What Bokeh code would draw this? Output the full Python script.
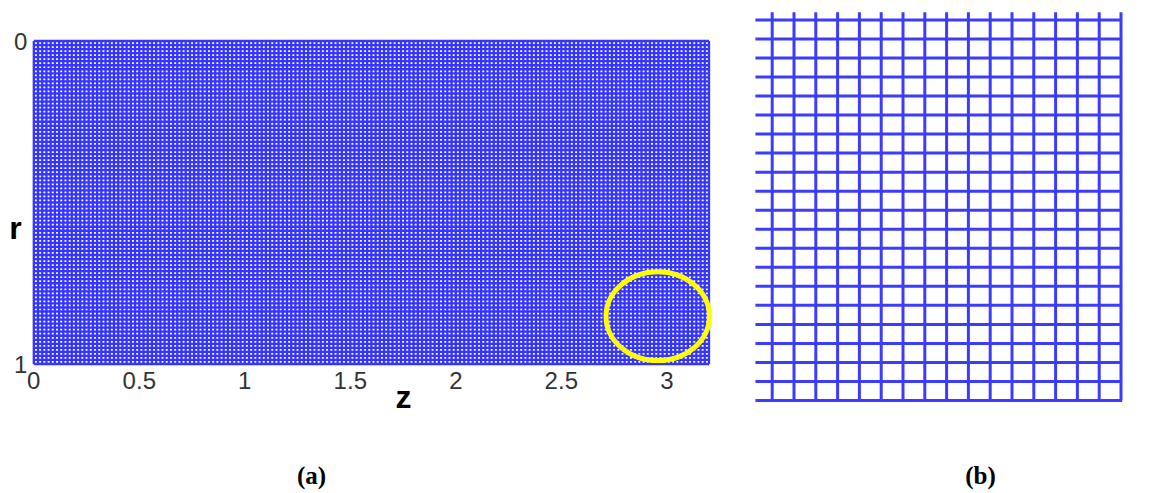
import numpy as np
from bokeh.plotting import figure
from bokeh.models import Range1d
from bokeh.core.properties import value
from bokeh.embed import file_html
from bokeh.resources import INLINE

# ---------------- data ----------------
# panel (a): computational mesh on z in [0, 3.2], r in [0, 1]
z_max = 3.2
r_max = 1.0
n_z_cells = 160
n_r_cells = 80
z_ticks = [0, 0.5, 1, 1.5, 2, 2.5, 3]
z_tick_labels = ["0", "0.5", "1", "1.5", "2", "2.5", "3"]
r_ticks = [0, 1]
r_tick_labels = ["0", "1"]
# highlighted region (yellow ring)
ring_z = [2.957]
ring_r = [0.852]
ring_w = [0.49]
ring_h = [0.275]

# panel (b): zoomed view of the mesh (cell indices)
zoom_cols = list(range(0, 17))   # vertical lines
zoom_rows = list(range(0, 21))   # horizontal lines

MESH_BLUE = "#3535ff"
GRID_BLUE = "#3c3cff"
TICK_FONT = value("Liberation Sans")

# One canvas; panel (a) uses the main ranges, panel (b) the extra ranges.
p = figure(output_backend="svg", toolbar_location=None,
           width=1153, height=493, min_border=0,
           x_axis_location=None, y_axis_location=None,
           x_range=Range1d(-0.1578, 5.3066), y_range=Range1d(1.4009, -0.1254),
           background_fill_color="white", border_fill_color="white")
p.outline_line_color = None
p.grid.visible = False
p.extra_x_ranges = {"bx": Range1d(-35.399, 17.491)}
p.extra_y_ranges = {"by": Range1d(-4.887, 21.019)}

# ---------------- panel (a) ----------------
zl = np.linspace(0, z_max, n_z_cells + 1)
rl = np.linspace(0, r_max, n_r_cells + 1)
p.segment(x0=zl, y0=np.zeros_like(zl), x1=zl, y1=np.full_like(zl, r_max),
          line_color=MESH_BLUE, line_width=2.3)
p.segment(x0=np.zeros_like(rl), y0=rl, x1=np.full_like(rl, z_max), y1=rl,
          line_color=MESH_BLUE, line_width=2.3)

p.ellipse(x=ring_z, y=ring_r, width=ring_w, height=ring_h,
          fill_color=None, line_color="#ffff00", line_width=5)

# tick labels
p.text(x=z_ticks, y=[1.024] * len(z_ticks), text=z_tick_labels,
       text_font=TICK_FONT, text_font_size="24px", text_color="#333333",
       text_align="center", text_baseline="top")
p.text(x=[-0.03] * len(r_ticks), y=r_ticks, text=r_tick_labels,
       text_font=TICK_FONT, text_font_size="24px", text_color="#333333",
       text_align="right", text_baseline="middle")

# axis names
p.text(x=[-0.0867], y=[0.5774], text=["r"], text_font=value("Liberation Sans"),
       text_font_style="bold", text_font_size="32px", text_color="black",
       text_align="center", text_baseline="alphabetic")
p.text(x=[1.752], y=[1.1006], text=["z"], text_font=value("Liberation Sans"),
       text_font_style="bold", text_font_size="32px", text_color="black",
       text_align="center", text_baseline="alphabetic")

# panel caption
p.text(x=[1.316], y=[1.3452], text=["(a)"], text_font=value("Liberation Serif"),
       text_font_style="bold", text_font_size="25px", text_color="black",
       text_align="center", text_baseline="alphabetic")

# ---------------- panel (b) ----------------
cols = np.array(zoom_cols, dtype=float)
rows_ = np.array(zoom_rows, dtype=float)
p.segment(x0=np.full_like(rows_, -0.77), y0=rows_, x1=np.full_like(rows_, 16.05), y1=rows_,
          line_color=GRID_BLUE, line_width=3, x_range_name="bx", y_range_name="by")
p.segment(x0=cols, y0=np.zeros_like(cols), x1=cols, y1=np.full_like(cols, 20.4),
          line_color=GRID_BLUE, line_width=3, x_range_name="bx", y_range_name="by")

p.text(x=[9.555], y=[-3.941], text=["(b)"], text_font=value("Liberation Serif"),
       text_font_style="bold", text_font_size="25px", text_color="black",
       text_align="center", text_baseline="alphabetic",
       x_range_name="bx", y_range_name="by")

open("out.html", "w").write(file_html(p, INLINE))
